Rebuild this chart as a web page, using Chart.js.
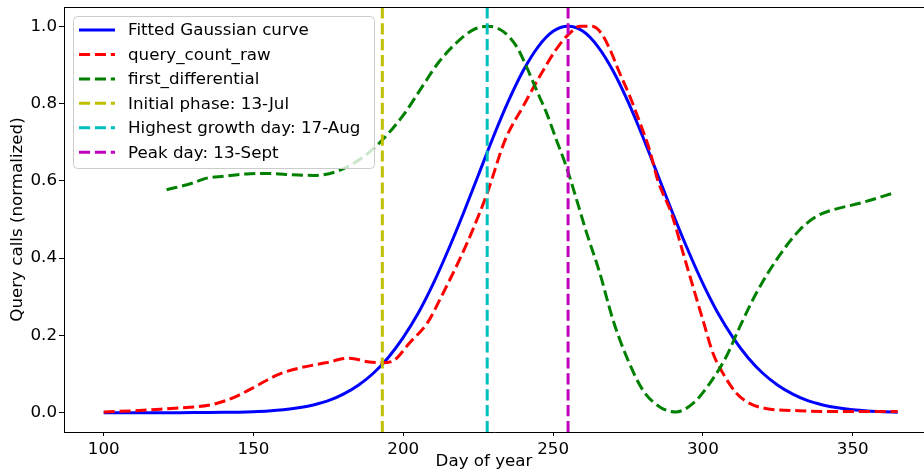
<!DOCTYPE html>
<html>
<head>
<meta charset="utf-8">
<script src="https://cdn.jsdelivr.net/npm/chart.js@4.4.0/dist/chart.umd.min.js"></script>
<style>
  html, body { margin: 0; padding: 0; background: #fff; overflow: hidden; }
  canvas { display: block; }
</style>
</head>
<body>
<canvas id="chart" width="924" height="473"></canvas>
<script>
// fitted gaussian, sampled every 5 days
const gaussDays = [100,105,110,115,120,125,130,135,140,145,150,155,160,165,170,175,180,185,190,195,
  200,205,210,215,220,225,230,235,240,245,250,255,260,265,270,275,280,285,290,295,
  300,305,310,315,320,325,330,335,340,345,350,355,360,365];
const gaussValues = [0,0,0,0,0.0001,0.0001,0.0002,0.0004,0.0008,0.0014,0.0026,0.0045,0.0076,0.0125,0.020,0.031,0.048,0.071,0.102,0.143,
  0.195,0.258,0.334,0.421,0.515,0.614,0.713,0.805,0.885,0.947,0.987,1.0,0.987,0.947,0.885,0.805,0.713,0.614,0.515,0.421,
  0.334,0.258,0.195,0.143,0.102,0.071,0.048,0.031,0.020,0.0125,0.0076,0.0045,0.0026,0.0014];

// query_count_raw
const rawDays = [100,110,119,130,135,141,145,150,154,158,165,174,182,188,193,197,202,208,213,219,223,228,234,240,245.5,251,255,259,263,266,269,272,275.6,279,282.2,285,289.5,293.4,296.7,300,303.4,306.7,311.2,315.6,321,332,345,365];
const rawValues = [0.002,0.005,0.009,0.015,0.019,0.032,0.045,0.065,0.082,0.098,0.115,0.129,0.141,0.132,0.129,0.136,0.18,0.232,0.305,0.40,0.47,0.568,0.706,0.793,0.87,0.94,0.978,1.0,1.0,0.983,0.94,0.883,0.819,0.75,0.68,0.60,0.516,0.413,0.326,0.24,0.153,0.102,0.05,0.024,0.011,0.005,0.003,0.003];

// first_differential
const diffDays = [121,130,134.3,140,147.6,155,163,170,177.7,185.4,192,200,206,212,217.7,223.3,228.3,233.3,237.8,241.1,244.4,247.8,251.1,254.4,257.2,261,265.6,270,274.5,280,285.6,291,296.7,302.3,307.8,312.3,317.8,324.5,332.3,337.9,343.4,352.3,363.4];
const diffValues = [0.577,0.595,0.607,0.612,0.618,0.619,0.616,0.614,0.624,0.655,0.698,0.77,0.84,0.909,0.957,0.991,1.0,0.987,0.948,0.896,0.836,0.776,0.706,0.637,0.568,0.47,0.361,0.24,0.145,0.058,0.015,0.002,0.024,0.076,0.145,0.222,0.309,0.395,0.473,0.508,0.525,0.542,0.568];

// marker days
const markerLabels = ['Initial phase: 13-Jul', 'Highest growth day: 17-Aug', 'Peak day: 13-Sept'];
const markerDays = [193, 228, 255];
const markerColors = ['#bfbf00', '#00bfbf', '#bf00bf'];

const xTicks = [100, 150, 200, 250, 300, 350];
const yTicks = [0, 0.2, 0.4, 0.6, 0.8, 1.0];

const FONT = 'DejaVu Sans';
const FS = 16.7;
const DASH = [11.1, 4.8];

Chart.defaults.font.family = FONT;
Chart.defaults.font.size = FS;
Chart.defaults.color = '#000';

function pts(xs, ys) {
  return xs.map((x, i) => ({ x: x, y: ys[i] }));
}

const datasets = [
  { label: 'Fitted Gaussian curve', data: pts(gaussDays, gaussValues), borderColor: '#0000ff', borderWidth: 3, order: 6 },
  { label: 'query_count_raw', data: pts(rawDays, rawValues), borderColor: '#ff0000', borderWidth: 3, borderDash: DASH, order: 5 },
  { label: 'first_differential', data: pts(diffDays, diffValues), borderColor: '#008000', borderWidth: 3, borderDash: DASH, order: 4 }
];
markerDays.forEach((d, i) => {
  datasets.push({
    label: markerLabels[i],
    data: [{ x: d, y: -0.05 }, { x: d, y: 1.05 }],
    borderColor: markerColors[i], borderWidth: 3, borderDash: DASH, order: 3 - i
  });
});
datasets.forEach(ds => {
  ds.pointRadius = 0;
  ds.fill = false;
  ds.cubicInterpolationMode = 'monotone';
});

// legend box drawn inside the plot, plus top spine and x label
const extras = {
  id: 'extras',
  afterDatasetsDraw(chart) {
    const ctx = chart.ctx;
    const area = chart.chartArea;
    ctx.save();
    // top spine
    ctx.strokeStyle = '#000';
    ctx.lineWidth = 1;
    ctx.beginPath();
    ctx.moveTo(area.left, area.top + 0.5);
    ctx.lineTo(area.right, area.top + 0.5);
    ctx.stroke();

    // legend
    const bx = 73.5, by = 16.5, bw = 301, bh = 152, r = 4;
    ctx.beginPath();
    ctx.moveTo(bx + r, by);
    ctx.arcTo(bx + bw, by, bx + bw, by + bh, r);
    ctx.arcTo(bx + bw, by + bh, bx, by + bh, r);
    ctx.arcTo(bx, by + bh, bx, by, r);
    ctx.arcTo(bx, by, bx + bw, by, r);
    ctx.closePath();
    ctx.fillStyle = 'rgba(255,255,255,0.8)';
    ctx.fill();
    ctx.strokeStyle = '#cccccc';
    ctx.stroke();

    ctx.font = FS + 'px "' + FONT + '"';
    ctx.textBaseline = 'middle';
    ctx.textAlign = 'left';
    chart.data.datasets.forEach((ds, i) => {
      const y = 30 + i * 24.45;
      ctx.strokeStyle = ds.borderColor;
      ctx.lineWidth = ds.borderWidth;
      ctx.setLineDash(ds.borderDash || []);
      ctx.beginPath();
      ctx.moveTo(79, y);
      ctx.lineTo(115, y);
      ctx.stroke();
      ctx.setLineDash([]);
      ctx.fillStyle = '#000';
      ctx.fillText(ds.label, 128, y + 1);
    });

    // x axis label
    ctx.textAlign = 'center';
    ctx.fillText('Day of year', 484, 462);
    ctx.restore();
  }
};

new Chart(document.getElementById('chart'), {
  type: 'line',
  data: { datasets: datasets },
  plugins: [extras],
  options: {
    responsive: false,
    animation: false,
    devicePixelRatio: 1,
    layout: { padding: { top: 7, right: 0, left: 0, bottom: 0 } },
    plugins: { legend: { display: false }, tooltip: { enabled: false } },
    scales: {
      x: {
        type: 'linear',
        min: 86.75,
        max: 373.8,
        afterBuildTicks: s => { s.ticks = xTicks.map(v => ({ value: v })); },
        afterFit: s => { s.height = 41; s.paddingLeft = 0; s.paddingRight = 0; },
        grid: { drawOnChartArea: false, drawTicks: true, tickLength: 4, tickColor: '#000', tickWidth: 1 },
        border: { display: true, color: '#000', width: 1 },
        ticks: { padding: 4, maxRotation: 0, autoSkip: false, font: { size: FS } }
      },
      y: {
        type: 'linear',
        min: -0.05,
        max: 1.05,
        afterBuildTicks: s => { s.ticks = yTicks.map(v => ({ value: v })); },
        afterFit: s => { s.width = 64; s.paddingTop = 0; s.paddingBottom = 0; },
        grid: { drawOnChartArea: false, drawTicks: true, tickLength: 5, tickColor: '#000', tickWidth: 1 },
        border: { display: true, color: '#000', width: 1 },
        ticks: { padding: 2, autoSkip: false, font: { size: FS }, callback: v => v.toFixed(1) },
        title: { display: true, text: 'Query calls (normalized)', font: { size: FS }, padding: { top: 8, bottom: 0 } }
      }
    }
  }
});
</script>
</body>
</html>
